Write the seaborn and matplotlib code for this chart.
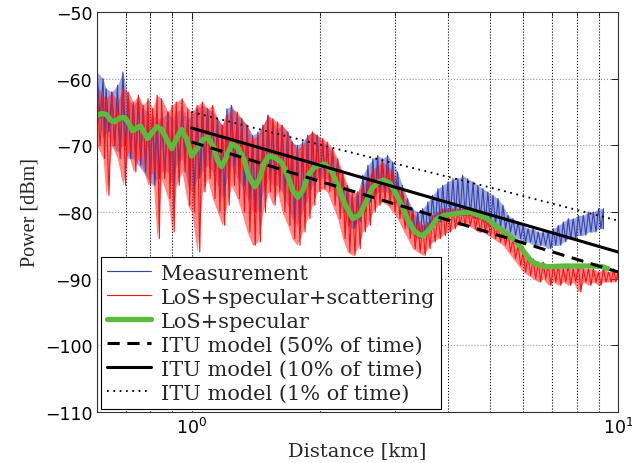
import numpy as np
import pandas as pd
import matplotlib
matplotlib.use('Agg')
import matplotlib.pyplot as plt
import seaborn as sns

dist = [0.60, 0.62, 0.63, 0.65, 0.67, 0.69, 0.71, 0.73, 0.75, 0.77, 0.79, 0.81, 0.83, 0.85,
        0.88, 0.90, 0.92, 0.95, 0.98, 1.00, 1.03, 1.06, 1.09, 1.12, 1.15, 1.18, 1.21, 1.24,
        1.28, 1.31, 1.35, 1.39, 1.43, 1.47, 1.51, 1.55, 1.59, 1.63, 1.68, 1.72, 1.77, 1.82,
        1.87, 1.92, 1.97, 2.03, 2.08, 2.14, 2.20, 2.26, 2.32, 2.38, 2.45, 2.52, 2.59, 2.66,
        2.73, 2.80, 2.88, 2.96, 3.04, 3.12, 3.21, 3.30, 3.39, 3.48, 3.58, 3.67, 3.78, 3.88,
        3.99, 4.10, 4.21, 4.32, 4.44, 4.57, 4.69, 4.82, 4.95, 5.09, 5.23, 5.37, 5.52, 5.67,
        5.83, 5.99, 6.15, 6.32, 6.50, 6.67, 6.86, 7.05, 7.24, 7.44, 7.64, 7.85, 8.07, 8.29,
        8.52, 8.75, 9.00, 9.24, 9.50, 9.76, 10.0]

# LoS+specular+scattering: upper / lower envelope of the spikes [dBm]
red_top = [-61, -62.5, -63, -62, -63.5, -61.5, -62, -63.5, -62.5, -64, -63, -64.5, -62.5, -63,
           -65, -64, -63.5, -63, -64.5, -65, -64, -63.5, -64.5, -64, -66, -67, -65.5, -64.5,
           -65, -66, -67, -69, -68.5, -67, -65.5, -66, -66.5, -67, -68, -69.5, -70.5, -70,
           -68.5, -68, -68.5, -69, -69.5, -70.5, -72, -74, -76, -77, -77, -76, -75, -73.5,
           -73, -72.5, -73, -74, -75.5, -77, -78.5, -80, -81, -82, -81.5, -80.5, -80, -79.5,
           -79.5, -79.5, -79.5, -79.5, -79.5, -80, -80.5, -80.5, -81, -81.5, -82, -82.5, -83, -84,
           -85, -86, -86.5, -87, -87.5, -87.5, -88, -88, -88, -88.5, -88, -88.5, -88, -88.5,
           -88.5, -88.5, -89, -88.5, -89, -88.5, -89]
red_bot = [-70, -72, -77.5, -70, -72, -76, -71, -74, -72, -73.5, -76, -74, -84, -75,
           -78, -83, -76, -74, -79, -80, -86, -77, -75, -78, -80, -82, -79, -76,
           -78, -80, -83, -85, -84.5, -80, -77, -79, -77, -80, -82, -84, -85, -83,
           -81, -79, -77, -76.5, -77, -79, -81, -84, -86, -86.5, -85.5, -83, -82, -80,
           -79, -78.5, -79, -80, -81, -82.5, -84, -85.5, -86, -86.5, -85.5, -84.5, -84, -83.5,
           -83, -82.5, -82, -82, -82, -82.5, -83, -83, -83.5, -84, -84.5, -85, -86, -87,
           -88, -89, -89.5, -90, -90.5, -90, -91, -90.5, -91, -90.5, -91, -90.5, -92, -90.5,
           -91, -90.5, -91, -90.5, -90.5, -90.5, -90]

# Measurement: upper / lower envelope (trace stops near 9.3 km)
blue_top = [-59, -60, -61.5, -62, -61, -59, -63, -64, -63, -64.5, -65, -65.5, -66, -66,
            -65, -66, -65, -64.5, -66, -65.5, -64.5, -64, -64.5, -65, -66, -67, -64.5, -64,
            -65.5, -66, -67, -68.5, -68, -67, -65.5, -66.5, -67.5, -67, -68, -69.5, -70, -69.5,
            -68.5, -68, -68.5, -69.5, -70, -71, -72.5, -74.5, -76.5, -78, -77, -74.5, -73, -72,
            -71.5, -72, -71.5, -72.5, -74, -76, -78, -79.5, -80, -79.5, -78.5, -77.5, -76.5, -76,
            -75.5, -75, -75, -74.5, -75, -75.5, -76, -76.5, -77, -77.5, -78, -79, -80.5, -81,
            -81.5, -82, -82.5, -82.5, -83, -83, -83, -82.5, -82, -81.5, -81, -81, -80.5, -80.5,
            -80, -80, -79.5, -79.5]
blue_bot = [-66, -69, -68, -70, -71, -70, -72, -72, -73, -74, -75, -76, -75, -74,
            -74, -76, -73, -72, -76, -77, -75, -74, -73, -74, -76, -78, -75, -73,
            -75, -76, -78, -80, -80, -77, -75, -76, -76, -77, -79, -81, -82, -80,
            -78, -76, -75, -75, -75, -76.5, -78, -80, -82, -82.5, -81.5, -80, -78.5, -77.5,
            -77, -77, -77, -78, -79, -81, -82.5, -83.5, -84, -83.5, -82.5, -82, -81.5, -81,
            -80.5, -80.5, -80.5, -80.5, -80.5, -81, -81, -81.5, -82, -82, -82.5, -82.5, -83, -83.5,
            -84, -84.5, -84.5, -85, -85, -85, -85.5, -85, -85, -84.5, -84, -84, -83.5, -83.5,
            -83, -83, -82.5, -82.5]

# LoS+specular (smooth curve)
green_dist = [0.598, 0.615, 0.632, 0.645, 0.659, 0.678, 0.696, 0.711, 0.727, 0.743, 0.759,
              0.776, 0.788, 0.806, 0.828, 0.850, 0.873, 0.898, 0.922, 0.947, 0.973, 1.000,
              1.027, 1.061, 1.090, 1.126, 1.151, 1.176, 1.202, 1.241, 1.282, 1.325, 1.361,
              1.406, 1.444, 1.476, 1.516, 1.566, 1.627, 1.680, 1.727, 1.774, 1.822, 1.872,
              1.944, 2.052, 2.132, 2.201, 2.287, 2.388, 2.480, 2.562, 2.646, 2.734, 2.823,
              2.916, 3.012, 3.111, 3.214, 3.338, 3.486, 3.621, 3.760, 3.926, 4.100, 4.303,
              4.494, 4.693, 4.926, 5.144, 5.370, 5.578, 5.795, 6.018, 6.283, 6.561, 6.851,
              7.508, 8.231, 8.831, 9.170, 9.474]
green_pow = [-65.6, -65.2, -65.4, -66.2, -66.5, -65.9, -65.8, -66.6, -67.8, -67.4, -67.1,
             -68.2, -69.0, -68.2, -67.2, -67.6, -69.0, -70.5, -69.0, -67.6, -69.0, -71.6,
             -70.6, -69.2, -68.8, -70.2, -72.3, -73.2, -72.0, -69.8, -70.3, -72.0, -74.6,
             -76.2, -75.0, -72.8, -71.6, -71.8, -72.6, -74.6, -76.8, -77.8, -76.8, -74.6,
             -73.2, -72.8, -74.0, -76.0, -78.8, -81.0, -80.4, -78.5, -76.5, -75.5, -75.2,
             -75.7, -77.2, -79.0, -81.2, -83.0, -83.6, -82.5, -81.0, -80.5, -80.3, -80.1,
             -80.0, -80.4, -81.0, -82.0, -82.8, -83.6, -84.5, -86.0, -87.5, -88.0, -88.2,
             -88.1, -88.1, -88.1, -88.2, -88.5]

# ITU model lines
itu_dist = [1, 2, 5, 10]
itu_50 = [-69.5, -75.4, -83.1, -89.0]
itu_10 = [-67.4, -73.0, -80.4, -86.0]
itu_1 = [-65.0, -69.9, -76.3, -81.3]


def zigzag(d, top, bot):
    # spike trace: up to the top value, down to the bottom value halfway to the next sample
    xs, ys = [], []
    for i in range(len(top)):
        nxt = d[i + 1] if i + 1 < len(d) else d[i]
        xs += [d[i], np.sqrt(d[i] * nxt)]
        ys += [top[i], bot[i]]
    return pd.DataFrame({'x': xs, 'y': ys})


blue_d = dist[:len(blue_top)]
blue_df = zigzag(blue_d, blue_top, blue_bot)
red_df = zigzag(dist, red_top, red_bot)

sns.set_theme(style='white')
plt.rcParams['font.family'] = ['DejaVu Sans']
plt.rcParams['axes.edgecolor'] = '#333333'

fig = plt.figure(figsize=(6.32, 4.64), dpi=100)
ax = fig.add_axes([0.1535, 0.1099, 0.8245, 0.8621])
ax.set_xscale('log')

# dense noisy traces: light band for the bulk of the spikes plus the spike line itself
ax.fill_between(blue_d, blue_top, blue_bot, color='#4050b8', alpha=0.5, lw=0)
sns.lineplot(data=blue_df, x='x', y='y', sort=False, estimator=None, color='#3344b0',
             lw=0.8, ax=ax, label='Measurement')
ax.fill_between(dist, red_top, red_bot, color='#ff2828', alpha=0.55, lw=0)
sns.lineplot(data=red_df, x='x', y='y', sort=False, estimator=None, color='#ff1010',
             lw=0.8, ax=ax, label='LoS+specular+scattering')
sns.lineplot(x=green_dist, y=green_pow, color='#5cbb3a', lw=3.8, ax=ax, label='LoS+specular',
             solid_joinstyle='round', solid_capstyle='round')
sns.lineplot(x=itu_dist, y=itu_50, color='black', lw=2.2, ls=(0, (4, 2.5)), ax=ax,
             label='ITU model (50% of time)')
sns.lineplot(x=itu_dist, y=itu_10, color='black', lw=2.2, ax=ax,
             label='ITU model (10% of time)')
sns.lineplot(x=itu_dist, y=itu_1, color='black', lw=1.3, ls=(0, (1, 2.5)), ax=ax,
             label='ITU model (1% of time)')

ax.set_xlim(0.6, 10)
ax.set_ylim(-110, -50)
ax.set_yticks([-110, -100, -90, -80, -70, -60, -50])
ax.grid(which='both', axis='x', color='black', ls=':', lw=0.8)
ax.grid(which='major', axis='y', color='0.6', ls=':', lw=0.8)
ax.set_axisbelow(True)
ax.tick_params(which='both', direction='in', top=True, right=True, labelsize=12.5,
               colors='black', width=0.6)
ax.tick_params(which='major', length=5)
ax.tick_params(which='minor', length=3)
for s in ax.spines.values():
    s.set_linewidth(0.8)

ax.set_xlabel('Distance [km]', fontfamily='DejaVu Serif', fontsize=14, labelpad=3)
ax.set_ylabel('Power [dBm]', fontfamily='Liberation Serif', fontsize=14.5, labelpad=4)

leg = ax.legend(loc='lower left', bbox_to_anchor=(0.008, 0.008), borderaxespad=0,
                prop={'family': 'DejaVu Serif', 'size': 15}, fancybox=False,
                framealpha=1, edgecolor='black', handlelength=2.1, labelspacing=0.24,
                borderpad=0.3, handletextpad=0.45)
leg.get_frame().set_linewidth(0.8)

fig.savefig('out.png', dpi=100)
